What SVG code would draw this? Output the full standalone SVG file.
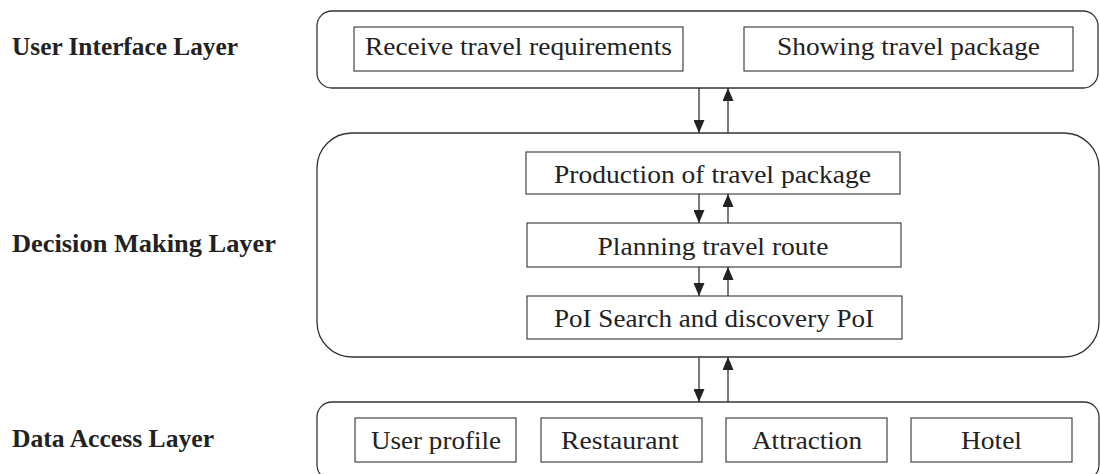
<svg xmlns="http://www.w3.org/2000/svg" width="1100" height="474" viewBox="0 0 1100 474">
<style>
.layer{fill:none;stroke:#333;stroke-width:1.3}
.box{fill:#fff;stroke:#444;stroke-width:1.2}
.t{font-family:"Liberation Serif","Times New Roman",serif;font-size:25px;fill:#222;text-anchor:middle}
.lbl{font-family:"Liberation Serif","Times New Roman",serif;font-size:25px;font-weight:bold;fill:#222}
.conn{stroke:#333;stroke-width:1.3;fill:none;marker-end:url(#ah)}
</style>
<defs>
<marker id="ah" markerUnits="userSpaceOnUse" markerWidth="13" markerHeight="11" refX="13" refY="5.5" orient="auto">
<path d="M0,0 L13,5.5 L0,11 z" fill="#222"/>
</marker>
</defs>
<g id="labels">
<text class="lbl" x="12" y="55" textLength="226" lengthAdjust="spacingAndGlyphs">User Interface Layer</text>
<text class="lbl" x="12" y="252" textLength="264" lengthAdjust="spacingAndGlyphs">Decision Making Layer</text>
<text class="lbl" x="12" y="447" textLength="202" lengthAdjust="spacingAndGlyphs">Data Access Layer</text>
</g>
<g id="ui-layer">
<rect class="layer" x="317" y="11" width="781" height="77" rx="15"/>
</g>
<g id="receive">
<rect class="box" x="354" y="27" width="329" height="44"/>
<text class="t" x="518.5" y="55" textLength="307" lengthAdjust="spacingAndGlyphs">Receive travel requirements</text>
</g>
<g id="showing">
<rect class="box" x="744" y="27" width="329" height="44"/>
<text class="t" x="908.5" y="55" textLength="263" lengthAdjust="spacingAndGlyphs">Showing travel package</text>
</g>
<g id="decision-layer">
<rect class="layer" x="317" y="133" width="782" height="224" rx="35"/>
</g>
<g id="production">
<rect class="box" x="526" y="152" width="374" height="42"/>
<text class="t" x="712.5" y="183" textLength="317" lengthAdjust="spacingAndGlyphs">Production of travel package</text>
</g>
<g id="planning">
<rect class="box" x="527" y="223" width="374" height="44"/>
<text class="t" x="713" y="255" textLength="231" lengthAdjust="spacingAndGlyphs">Planning travel route</text>
</g>
<g id="poi">
<rect class="box" x="527" y="296" width="375" height="43"/>
<text class="t" x="714" y="327" textLength="320" lengthAdjust="spacingAndGlyphs">PoI Search and discovery PoI</text>
</g>
<g id="data-layer">
<rect class="layer" x="317" y="402" width="782" height="78" rx="15"/>
</g>
<g id="user-profile">
<rect class="box" x="355" y="418" width="161" height="44"/>
<text class="t" x="436" y="449" textLength="130" lengthAdjust="spacingAndGlyphs">User profile</text>
</g>
<g id="restaurant">
<rect class="box" x="541" y="418" width="161" height="44"/>
<text class="t" x="620" y="449" textLength="118" lengthAdjust="spacingAndGlyphs">Restaurant</text>
</g>
<g id="attraction">
<rect class="box" x="726" y="418" width="161" height="44"/>
<text class="t" x="807" y="449" textLength="110" lengthAdjust="spacingAndGlyphs">Attraction</text>
</g>
<g id="hotel">
<rect class="box" x="911" y="418" width="161" height="44"/>
<text class="t" x="991.5" y="449" textLength="61" lengthAdjust="spacingAndGlyphs">Hotel</text>
</g>
<g id="connectors">
<line class="conn" x1="699" y1="88" x2="699" y2="133"/>
<line class="conn" x1="728" y1="133" x2="728" y2="88"/>
<line class="conn" x1="699" y1="194" x2="699" y2="223"/>
<line class="conn" x1="728" y1="223" x2="728" y2="194"/>
<line class="conn" x1="699" y1="267" x2="699" y2="296"/>
<line class="conn" x1="728" y1="296" x2="728" y2="267"/>
<line class="conn" x1="699" y1="357" x2="699" y2="402"/>
<line class="conn" x1="728" y1="402" x2="728" y2="357"/>
</g>
</svg>
